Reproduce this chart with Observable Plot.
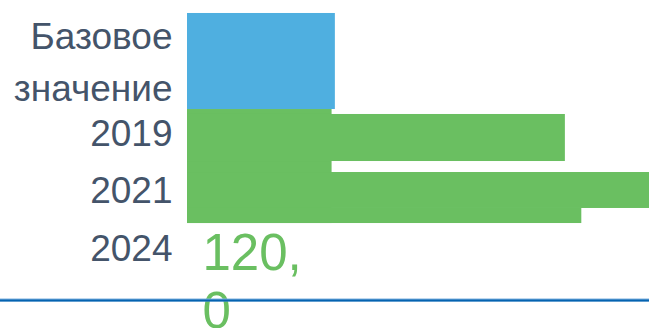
<!DOCTYPE html>
<html><head><meta charset="utf-8">
<script src="https://cdn.jsdelivr.net/npm/d3@7"></script>
<script src="https://cdn.jsdelivr.net/npm/@observablehq/plot@0.6"></script>
<style>
html,body{margin:0;padding:0;background:#fff;overflow:hidden}
#chart svg{display:block}
</style>
</head><body><div id="chart"></div>
<script>
// Category labels and their row positions (row units, 1 row = one band step)
const categories = ["Базовое значение", "2019", "2021", "2024"];
const labelRows = [-0.30, 0.95, 1.95, 2.96];

// Bars (as drawn in the picture)
const barSeries = ["base", "target", "target", "target", "target"];
const barValues = [45, 44, 115, 150, 120];
const barRowFrom = [-1.088, 0.597, 0.684, 1.702, 2.333];
const barRowTo = [0.597, 2.597, 1.509, 2.333, 2.597];

// Value label
const valueLabels = ["120,0"];
const valueLabelRows = [2.68];

// Baseline rule
const baselineRows = [3.938];

const bars = barValues.map((v, i) => ({series: barSeries[i], value: v, from: barRowFrom[i], to: barRowTo[i]}));
const labels = categories.map((c, i) => ({name: c, row: labelRows[i]}));
const vlabels = valueLabels.map((t, i) => ({text: t, row: valueLabelRows[i]}));

const W = 649, H = 328;
const font = "Liberation Sans, Arial, Helvetica, sans-serif";

const chart = Plot.plot({
  width: W,
  height: H,
  marginLeft: 187,
  marginRight: 0,
  marginTop: 0,
  marginBottom: 0,
  style: {background: "#fff", fontFamily: font, overflow: "hidden"},
  x: {domain: [0, 140.6], axis: null},
  y: {domain: [-75 / 57, 253 / 57], range: [0, H], axis: null},
  color: {domain: ["base", "target"], range: ["#4FAFE0", "#6ABF61"]},
  marks: [
    Plot.rectX(bars, {x1: 0, x2: "value", y1: "from", y2: "to", fill: "series", clip: true}),
    Plot.text(labels, {
      x: 0, y: "row", text: "name", textAnchor: "end", dx: -15,
      fontSize: 37, lineWidth: 5, lineHeight: 1.4, fill: "#44546A"
    }),
    Plot.text(vlabels, {
      x: 0, y: "row", text: d => d.text.replace(",", ",\n"), textAnchor: "start", dx: 15,
      lineAnchor: "top", fontSize: 51, lineHeight: 1.14, fill: "#6ABF61"
    }),
    Plot.ruleY(baselineRows, {x1: -57, x2: 140.6, stroke: "#7FB2E0", strokeWidth: 3, clip: false}),
    Plot.ruleY(baselineRows, {x1: -57, x2: 140.6, stroke: "#0563B0", strokeWidth: 2, dy: 0.5, clip: false})
  ]
});
document.getElementById("chart").appendChild(chart);
</script>
</body></html>
